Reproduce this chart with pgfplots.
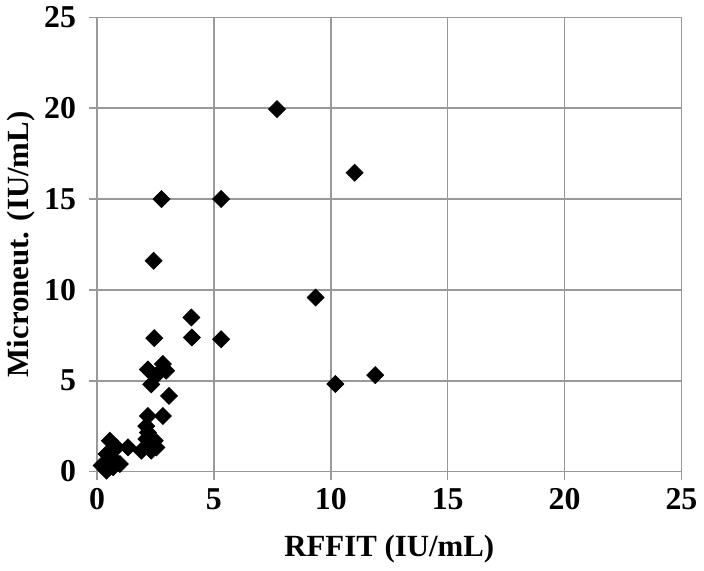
\documentclass[border=0pt]{standalone}
\usepackage{pgfplots}
\pgfplotsset{compat=1.18}
\usepackage{fontspec}
\setmainfont{Liberation Serif}

\begin{document}
\begin{tikzpicture}
\begin{axis}[
  width=294pt, height=228.5pt,
  scale only axis,
  xmin=0, xmax=25, ymin=0, ymax=25,
  xtick={0,5,...,25}, ytick={0,5,...,25},
  grid=major,
  grid style={gray!80, line width=0.8pt},
  axis line style={gray!80, line width=0.8pt},
  axis x line*=bottom, axis y line*=left,
  tick style={gray!80, line width=0.8pt},
  tick align=outside,
  major tick length=4pt,
  /pgf/number format/assume math mode=true,
  ticklabel style={font=\fontsize{16}{17}\selectfont\bfseries},
  yticklabel style={xshift=-3pt},
  xticklabel style={yshift=-1pt},
  label style={font=\fontsize{15.5}{16}\selectfont\bfseries},
  xlabel={RFFIT (IU/mL)},
  ylabel={Microneut. (IU/mL)},
  xlabel style={yshift=-6pt},
  ylabel style={yshift=-2pt},
  clip=false,
]
\addplot[only marks, mark=square*, mark size=3pt, black,
  mark options={rotate=45}] coordinates {
(7.7,19.95) (11.02,16.45) (2.76,15.0) (5.31,15.0) (2.42,11.6)
(9.35,9.58) (4.04,8.48) (4.06,7.38) (5.31,7.28) (2.45,7.35)
(10.2,4.82) (11.9,5.31) (3.08,4.16)
(2.82,5.92) (2.18,5.62) (2.96,5.55) (2.54,5.3) (2.32,4.8)
(2.18,3.06) (2.82,3.06) (2.11,2.5) (2.18,2.15) (2.11,1.79)
(2.47,1.7) (2.54,1.33) (1.9,1.15) (2.32,1.15) (1.33,1.33)
(0.55,1.7) (0.84,1.33) (0.41,0.97) (0.69,0.69) (0.98,0.42)
(0.2,0.33) (0.41,0.05) (0.69,0.24)
};
\end{axis}
\end{tikzpicture}
\end{document}
